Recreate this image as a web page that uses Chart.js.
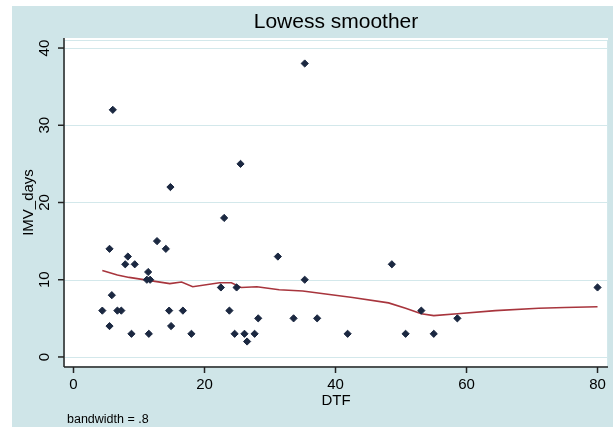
<!DOCTYPE html>
<html>
<head>
<meta charset="utf-8">
<script src="https://cdn.jsdelivr.net/npm/chart.js@4"></script>
<style>
    body { margin: 0; background: #fff; }
    #wrap { width: 613px; height: 427px; }
</style>
</head>
<body>
<div id="wrap"><canvas id="chart" width="613" height="427"></canvas></div>
<script>
// scatter points
const dtf = [4.4, 5.5, 5.5, 5.85, 6, 6.7, 7.3, 7.9, 8.3, 8.85, 9.35, 11.4, 11.2, 11.7, 11.5,
    12.75, 14.1, 14.6, 14.9, 14.8, 16.7, 18, 22.5, 23, 23.8, 24.6, 24.9, 25.5, 26.1, 26.5,
    27.65, 28.2, 31.2, 33.6, 35.3, 35.3, 37.2, 41.85, 48.6, 50.7, 53.1, 55, 58.6, 80]
const imvDays = [6, 14, 4, 8, 32, 6, 6, 12, 13, 3, 12, 11, 10, 10, 3,
    15, 14, 6, 4, 22, 6, 3, 9, 18, 6, 3, 9, 25, 3, 2,
    3, 5, 13, 5, 10, 38, 5, 3, 12, 3, 6, 3, 5, 9]

// lowess curve (bandwidth .8)
const lowessX = [4.4, 6.7, 8.5, 11.2, 14.7, 16.5, 18.2, 22.3, 24.1, 25.6, 28, 31.4, 35,
    38.5, 42.6, 48.1, 50.7, 53.1, 55, 58.6, 64.4, 71, 75, 80]
const lowessY = [11.2, 10.6, 10.3, 9.95, 9.5, 9.7, 9.1, 9.6, 9.6, 9.0, 9.1, 8.7, 8.55,
    8.15, 7.7, 7.0, 6.3, 5.6, 5.35, 5.6, 6.0, 6.3, 6.4, 6.5]

const xTicks = [0, 20, 40, 60, 80]
const yTicks = [0, 10, 20, 30, 40]

const BG = '#cfe5e8'
const GRID = '#d3e8eb'
const FONT = '"Liberation Sans", Arial, sans-serif'

// background, plot region, grid, axes, labels
const stataLook = {
    id: 'stataLook',
    beforeDraw(chart) {
        let ctx = chart.ctx
        let a = chart.chartArea
        let y = chart.scales.y
        ctx.save()
        ctx.fillStyle = '#fff'
        ctx.fillRect(0, 0, chart.width, chart.height)
        ctx.fillStyle = BG
        ctx.fillRect(12, 6, chart.width - 12, chart.height - 6)
        ctx.fillStyle = '#fff'
        ctx.fillRect(a.left, a.top, a.right - a.left, a.bottom - a.top)
        ctx.strokeStyle = GRID
        ctx.lineWidth = 1
        ctx.strokeRect(a.left + 0.5, a.top + 2.5, a.right - a.left - 1, a.bottom - a.top - 3)
        yTicks.forEach(t => {
            let py = Math.round(y.getPixelForValue(t)) + 0.5
            ctx.beginPath()
            ctx.moveTo(a.left, py)
            ctx.lineTo(a.right, py)
            ctx.stroke()
        })
        ctx.restore()
    },
    afterDraw(chart) {
        let ctx = chart.ctx
        let a = chart.chartArea
        let x = chart.scales.x
        let y = chart.scales.y
        ctx.save()
        ctx.strokeStyle = '#222'
        ctx.lineWidth = 1.5
        // y axis
        ctx.beginPath()
        ctx.moveTo(a.left, a.top)
        ctx.lineTo(a.left, a.bottom)
        ctx.stroke()
        // x axis
        ctx.beginPath()
        ctx.moveTo(a.left, a.bottom)
        ctx.lineTo(a.right, a.bottom)
        ctx.stroke()

        ctx.fillStyle = '#000'
        ctx.font = '15px ' + FONT
        ctx.textAlign = 'center'
        ctx.textBaseline = 'middle'
        xTicks.forEach(t => {
            let px = x.getPixelForValue(t)
            ctx.beginPath()
            ctx.moveTo(px, a.bottom)
            ctx.lineTo(px, a.bottom + 6)
            ctx.stroke()
            ctx.fillText(String(t), px, 385)
        })
        yTicks.forEach(t => {
            let py = y.getPixelForValue(t)
            ctx.beginPath()
            ctx.moveTo(a.left - 6, py)
            ctx.lineTo(a.left, py)
            ctx.stroke()
            ctx.save()
            ctx.translate(45, py)
            ctx.rotate(-Math.PI / 2)
            ctx.fillText(String(t), 0, 0)
            ctx.restore()
        })

        // axis titles
        ctx.fillText('DTF', (a.left + a.right) / 2, 401)
        ctx.save()
        ctx.translate(29, (a.top + a.bottom) / 2)
        ctx.rotate(-Math.PI / 2)
        ctx.fillText('IMV_days', 0, 0)
        ctx.restore()

        ctx.font = '21px ' + FONT
        ctx.fillText('Lowess smoother', 336, 22)

        ctx.font = '12.5px ' + FONT
        ctx.textAlign = 'left'
        ctx.fillText('bandwidth = .8', 67, 420)
        ctx.restore()
    }
}

let points = dtf.map((v, i) => ({x: v, y: imvDays[i]}))
let curve = lowessX.map((v, i) => ({x: v, y: lowessY[i]}))

let ctx = document.getElementById('chart').getContext('2d');
let chart = new Chart(ctx, {
    type: 'scatter',
    data: {
        datasets: [{
            label: 'IMV_days',
            data: points,
            pointStyle: 'rectRot',
            pointRadius: 3.6,
            pointBorderWidth: 1,
            backgroundColor: '#1b2841',
            borderColor: '#1b2841',
            showLine: false
        }, {
            label: 'lowess',
            type: 'line',
            data: curve,
            borderColor: '#a8353d',
            borderWidth: 1.6,
            pointRadius: 0,
            fill: false,
            tension: 0
        }]
    },
    options: {
        responsive: false,
        animation: false,
        layout: {
            padding: {left: 64, right: 4, top: 38, bottom: 60}
        },
        scales: {
            x: {type: 'linear', min: -1.45, max: 81.6, display: false},
            y: {type: 'linear', min: -1.3, max: 41.3, display: false}
        },
        plugins: {
            legend: {display: false},
            tooltip: {enabled: false}
        }
    },
    plugins: [stataLook]
});
</script>
</body>
</html>
